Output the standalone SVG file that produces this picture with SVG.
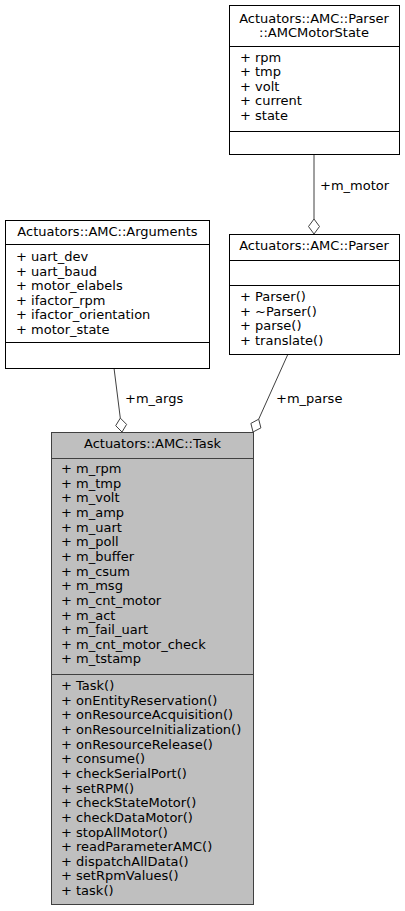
<svg xmlns="http://www.w3.org/2000/svg" width="405" height="911" viewBox="0 0 405 911">
<style>
text{font-family:"DejaVu Sans",sans-serif;font-size:13px;fill:#000}
.c{text-anchor:middle}
.box{fill:#fff;stroke:#000;stroke-width:1}
.task{fill:#bfbfbf;stroke:#404040;stroke-width:1}
.edge{fill:none;stroke:#404040;stroke-width:1}
.dia{fill:#fff;stroke:#404040;stroke-width:1}
</style>
<rect width="405" height="911" fill="#fff"/>
<g id="connectors">
<line class="edge" x1="314" y1="154" x2="314" y2="219"/>
<polygon class="dia" points="314,219 319.5,226.5 314,234 308.5,226.5"/>
<text x="320" y="190">+m_motor</text>
<line class="edge" x1="114" y1="368" x2="120.3" y2="418.1"/>
<polygon class="dia" points="120.3,418.1 126.6,424.4 122,432 115.7,425.7"/>
<text x="125" y="403">+m_args</text>
<line class="edge" x1="288" y1="354" x2="258.7" y2="419.2"/>
<polygon class="dia" points="258.7,419.2 260.9,427.9 253,432 250.9,423.4"/>
<text x="276" y="403">+m_parse</text>
</g>
<g id="motorstate">
<rect class="box" x="229.5" y="5.5" width="170" height="149"/>
<text class="c" x="314" y="23">Actuators::AMC::Parser</text>
<text class="c" x="314" y="37">::AMCMotorState</text>
<line class="box" x1="229.5" y1="46.5" x2="399.5" y2="46.5"/>
<text x="240" y="61.5">+ rpm</text>
<text x="240" y="76">+ tmp</text>
<text x="240" y="90.5">+ volt</text>
<text x="240" y="105">+ current</text>
<text x="240" y="119.5">+ state</text>
<line class="box" x1="229.5" y1="131.5" x2="399.5" y2="131.5"/>
</g>
<g id="arguments">
<rect class="box" x="5.5" y="220.5" width="204" height="148"/>
<text class="c" x="107.5" y="236">Actuators::AMC::Arguments</text>
<line class="box" x1="5.5" y1="244.5" x2="209.5" y2="244.5"/>
<text x="16" y="261">+ uart_dev</text>
<text x="16" y="275.5">+ uart_baud</text>
<text x="16" y="290">+ motor_elabels</text>
<text x="16" y="304.5">+ ifactor_rpm</text>
<text x="16" y="319">+ ifactor_orientation</text>
<text x="16" y="333.5">+ motor_state</text>
<line class="box" x1="5.5" y1="342.5" x2="209.5" y2="342.5"/>
</g>
<g id="parser">
<rect class="box" x="229.5" y="234.5" width="170" height="120"/>
<text class="c" x="314" y="250">Actuators::AMC::Parser</text>
<line class="box" x1="229.5" y1="260.5" x2="399.5" y2="260.5"/>
<line class="box" x1="229.5" y1="285.5" x2="399.5" y2="285.5"/>
<text x="240" y="301">+ Parser()</text>
<text x="240" y="315.5">+ ~Parser()</text>
<text x="240" y="330">+ parse()</text>
<text x="240" y="344.5">+ translate()</text>
</g>
<g id="task">
<rect class="task" x="51.5" y="432.5" width="202" height="472"/>
<text class="c" x="152.5" y="448">Actuators::AMC::Task</text>
<line class="task" x1="51.5" y1="458.5" x2="253.5" y2="458.5"/>
<text x="61" y="473">+ m_rpm</text>
<text x="61" y="487.6">+ m_tmp</text>
<text x="61" y="502.3">+ m_volt</text>
<text x="61" y="516.9">+ m_amp</text>
<text x="61" y="531.6">+ m_uart</text>
<text x="61" y="546.2">+ m_poll</text>
<text x="61" y="560.9">+ m_buffer</text>
<text x="61" y="575.5">+ m_csum</text>
<text x="61" y="590.2">+ m_msg</text>
<text x="61" y="604.8">+ m_cnt_motor</text>
<text x="61" y="619.5">+ m_act</text>
<text x="61" y="634.1">+ m_fail_uart</text>
<text x="61" y="648.8">+ m_cnt_motor_check</text>
<text x="61" y="663.4">+ m_tstamp</text>
<line class="task" x1="51.5" y1="674.5" x2="253.5" y2="674.5"/>
<text x="61" y="690">+ Task()</text>
<text x="61" y="704.6">+ onEntityReservation()</text>
<text x="61" y="719.3">+ onResourceAcquisition()</text>
<text x="61" y="733.9">+ onResourceInitialization()</text>
<text x="61" y="748.6">+ onResourceRelease()</text>
<text x="61" y="763.2">+ consume()</text>
<text x="61" y="777.9">+ checkSerialPort()</text>
<text x="61" y="792.5">+ setRPM()</text>
<text x="61" y="807.2">+ checkStateMotor()</text>
<text x="61" y="821.8">+ checkDataMotor()</text>
<text x="61" y="836.5">+ stopAllMotor()</text>
<text x="61" y="851.1">+ readParameterAMC()</text>
<text x="61" y="865.8">+ dispatchAllData()</text>
<text x="61" y="880.4">+ setRpmValues()</text>
<text x="61" y="895">+ task()</text>
</g>
</svg>
